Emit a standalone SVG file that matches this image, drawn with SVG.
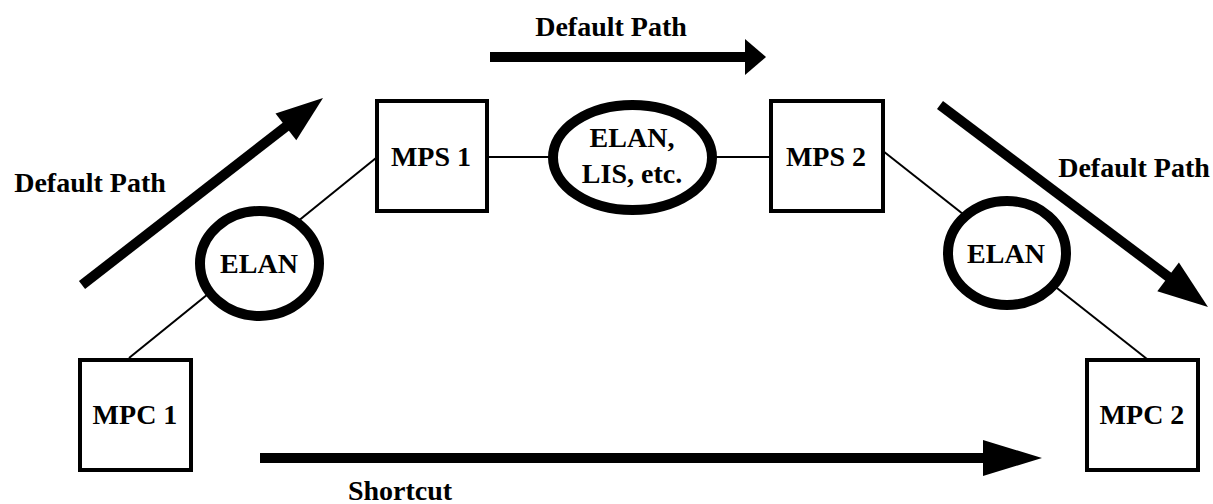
<svg xmlns="http://www.w3.org/2000/svg" width="1213" height="504" viewBox="0 0 1213 504">
<style>
.box{fill:#fff;stroke:#000;stroke-width:4}
.ell{fill:#fff;stroke:#000;stroke-width:10}
.link{stroke:#000;stroke-width:2;fill:none}
.shaft{stroke:#000;stroke-width:10;fill:none}
.head{fill:#000;stroke:none}
text{font-family:"Liberation Serif","Times New Roman",serif;font-weight:bold;font-size:28px;fill:#000;text-anchor:middle}
</style>
<rect width="1213" height="504" fill="#fff"/>
<g id="connectors">
<line class="link" x1="129" y1="358" x2="376" y2="158"/>
<line class="link" x1="487" y1="157" x2="553" y2="157"/>
<line class="link" x1="712" y1="157" x2="771" y2="157"/>
<line class="link" x1="883" y1="151" x2="1147" y2="359"/>
</g>
<g id="arrows">
<line class="shaft" x1="82" y1="285" x2="288" y2="125"/>
<polygon class="head" points="323,98 296.3,140.2 275.5,113.4"/>
<line class="shaft" x1="490" y1="57" x2="748" y2="57"/>
<polygon class="head" points="766,57 745,75 745,39"/>
<line class="shaft" x1="940" y1="105" x2="1170" y2="278"/>
<polygon class="head" points="1208,307 1157.3,291.3 1178.9,262.5"/>
<line class="shaft" x1="260" y1="458" x2="986" y2="458"/>
<polygon class="head" points="1042,458 983,476 983,440"/>
</g>
<g id="labels">
<text x="90" y="192">Default Path</text>
<text x="611" y="36">Default Path</text>
<text x="1134" y="177">Default Path</text>
<text x="400" y="500">Shortcut</text>
</g>
<g id="mpc1">
<rect class="box" x="80" y="360" width="111" height="110"/>
<text x="135" y="424">MPC 1</text>
</g>
<g id="elan1">
<ellipse class="ell" cx="259.5" cy="263.5" rx="59.5" ry="52.5"/>
<text x="259" y="273">ELAN</text>
</g>
<g id="mps1">
<rect class="box" x="377" y="101" width="110" height="110"/>
<text x="431" y="166">MPS 1</text>
</g>
<g id="elan-lis">
<ellipse class="ell" cx="632.5" cy="157.5" rx="79.5" ry="52.5"/>
<text x="632" y="147">ELAN,</text>
<text x="632" y="183">LIS, etc.</text>
</g>
<g id="mps2">
<rect class="box" x="771" y="101" width="112" height="110"/>
<text x="826" y="166">MPS 2</text>
</g>
<g id="elan2">
<ellipse class="ell" cx="1007" cy="253" rx="59" ry="52"/>
<text x="1006" y="263">ELAN</text>
</g>
<g id="mpc2">
<rect class="box" x="1087" y="360" width="111" height="110"/>
<text x="1142" y="424">MPC 2</text>
</g>
</svg>
